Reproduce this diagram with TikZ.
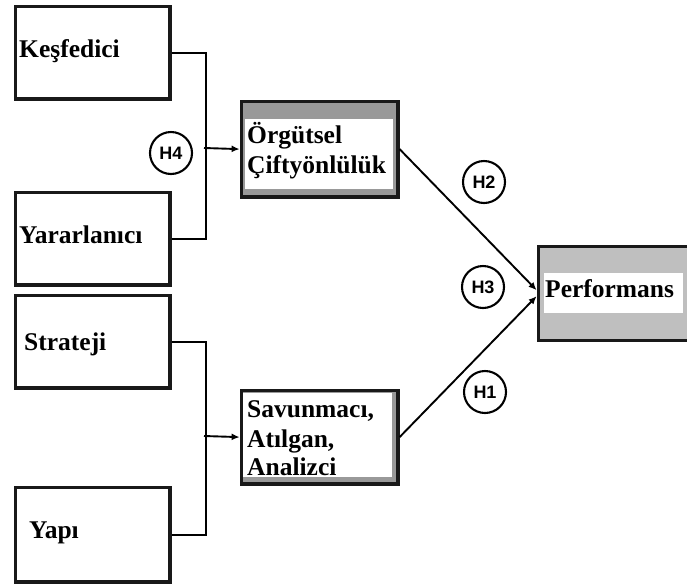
\documentclass[tikz,border=0pt]{standalone}
\usepackage{fontspec}
\setmainfont{Liberation Serif}
\newfontfamily\hfont{Liberation Sans}
\usetikzlibrary{arrows.meta}
\begin{document}
\begin{tikzpicture}[x=1pt,y=-1pt]
\tikzset{
  plain/.style={draw=black!90, line width=3.2pt, fill=white, inner sep=0pt, anchor=north west},
  framed/.style={plain, fill=black!40},
  lightframed/.style={plain, fill=black!25},
  innerwhite/.style={fill=white, inner sep=0pt, anchor=north west},
  lbl/.style={font=\bfseries\fontsize{25.5}{30}\selectfont, inner sep=0pt, anchor=base west, align=left},
  hyp/.style={circle, draw=black, line width=2.1pt, minimum size=42pt, inner sep=0pt,
              font=\hfont\bfseries\fontsize{18}{18}\selectfont},
  link/.style={line width=1.9pt, draw=black},
  arr/.style={link, -{Latex[length=8pt,width=7pt]}},
}
\useasboundingbox (0,0) rectangle (687,587);
\clip (0,0) rectangle (687,587);

% input boxes on the left
\node[plain, minimum width=154.8pt, minimum height=92.8pt] (kes) at (13.6,4.6) {};
\node[plain, minimum width=154.8pt, minimum height=92.8pt] (yar) at (13.6,190.6) {};
\node[plain, minimum width=154.8pt, minimum height=92.8pt] (str) at (13.6,293.6) {};
\node[plain, minimum width=154.8pt, minimum height=94.8pt] (yap) at (13.6,485.6) {};

% middle boxes with grey frames
\node[framed, minimum width=156.8pt, minimum height=95.8pt] (org) at (239.6,99.6) {};
\node[innerwhite, minimum width=148pt, minimum height=70pt] (orgin) at (245,119) {};
\node[framed, minimum width=156.8pt, minimum height=93.8pt] (sav) at (239.6,388.6) {};
\node[innerwhite, minimum width=149pt, minimum height=84pt] (savin) at (243,393) {};

% outcome box
\node[lightframed, minimum width=170pt, minimum height=94pt] (perf) at (536.6,244.6) {};
\node[innerwhite, minimum width=139pt, minimum height=40pt] (perfin) at (544,273) {};

% box texts
\node[lbl] (tkes) at (19,57) {Keşfedici};
\node[lbl] (tyar) at (19,243) {Yararlanıcı};
\node[lbl] (tstr) at (24,350) {Strateji};
\node[lbl] (tyap) at (29,538) {Yapı};
\node[lbl] (torg1) at (247,143) {Örgütsel};
\node[lbl] (torg2) at (247,173) {Çiftyönlülük};
\node[lbl] (tsav1) at (247,417) {Savunmacı,};
\node[lbl] (tsav2) at (247,447) {Atılgan,};
\node[lbl] (tsav3) at (247,475) {Analizci};
\node[lbl] (tperf) at (545,297) {Performans};

% brackets joining the input pairs
\coordinate (j1) at (204,148);
\coordinate (j2) at (204,436);
\draw[link] (kes.east) -- ++(34,0) |- (yar.east);
\draw[link] (str.east) -- ++(34,0) |- (yap.east);
\draw[arr] (j1) -- (org.west);
\draw[arr] (j2) -- (sav.west);

% paths to performance
\draw[arr] (org.east) -- ([yshift=3pt]perf.west);
\draw[arr] (sav.east) -- ([yshift=-3pt]perf.west);

% hypothesis markers
\node[hyp] (h4) at (171,153) {H4};
\node[hyp] (h2) at (484,182) {H2};
\node[hyp] (h3) at (483,287) {H3};
\node[hyp] (h1) at (485,392) {H1};
\end{tikzpicture}
\end{document}
